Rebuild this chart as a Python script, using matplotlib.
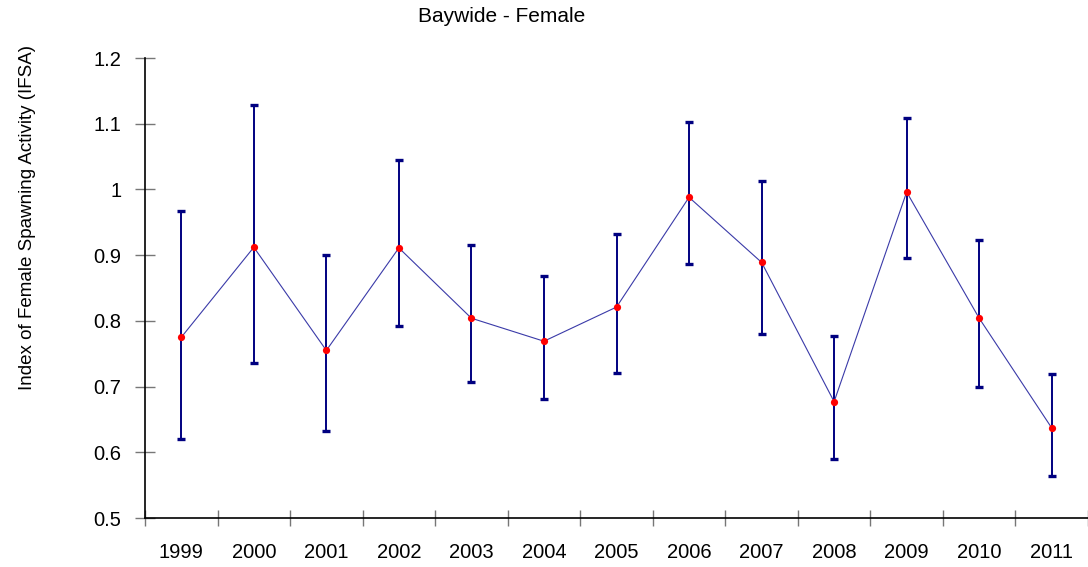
import matplotlib
matplotlib.use('Agg')
import matplotlib.pyplot as plt
import numpy as np

plt.rcParams['font.family'] = ['Liberation Sans', 'DejaVu Sans']

# Data
years = ['1999', '2000', '2001', '2002', '2003', '2004', '2005',
         '2006', '2007', '2008', '2009', '2010', '2011']
ifsa = [0.775, 0.912, 0.755, 0.911, 0.804, 0.769, 0.821,
        0.988, 0.889, 0.677, 0.996, 0.804, 0.637]
upper = [0.967, 1.129, 0.900, 1.045, 0.915, 0.868, 0.932,
         1.103, 1.013, 0.777, 1.108, 0.923, 0.719]
lower = [0.620, 0.736, 0.633, 0.792, 0.707, 0.681, 0.720,
         0.886, 0.780, 0.590, 0.896, 0.700, 0.564]

x = np.arange(len(years))
y = np.array(ifsa)
err = [y - np.array(lower), np.array(upper) - y]

fig = plt.figure(figsize=(10.88, 5.67), dpi=100)
ax = fig.add_axes([145 / 1088, 1 - 518 / 567, 1 - 145 / 1088, (518 - 58) / 567])

ax.errorbar(x, y, yerr=err, fmt='none', ecolor='#000080', elinewidth=1.4,
            capsize=2.6, capthick=2.4, zorder=2)
ax.plot(x, y, color='#3a3aa8', linewidth=0.8, zorder=3)
ax.plot(x, y, 'o', color='red', markersize=5.2, markeredgewidth=0, zorder=4)

ax.set_xlim(-0.5, len(years) - 0.5)
ax.set_ylim(0.5, 1.2)
ax.set_yticks(np.arange(0.5, 1.21, 0.1))
ax.set_yticklabels(['0.5', '0.6', '0.7', '0.8', '0.9', '1', '1.1', '1.2'])

# category boundaries carry the tick marks, labels sit at the centers
ax.set_xticks(np.arange(-0.5, len(years), 1.0))
ax.set_xticklabels([])
ax.set_xticks(x, minor=True)
ax.set_xticklabels(years, minor=True)
ax.tick_params(axis='x', which='minor', length=0, labelsize=14.5, pad=18)
ax.tick_params(axis='x', which='major', direction='inout', length=12,
               width=1, color='#777777')
ax.tick_params(axis='y', direction='inout', length=14, width=1,
               color='#777777', labelsize=14.5, pad=10)

for side in ['top', 'right']:
    ax.spines[side].set_visible(False)
ax.spines['left'].set_linewidth(1.2)
ax.spines['bottom'].set_linewidth(1.2)

fig.text(502 / 1088, 1 - 17 / 567, 'Baywide - Female', ha='center',
         va='center', fontsize=15)
fig.text(28 / 1088, 1 - 218 / 567, 'Index of Female Spawning Activity (IFSA)',
         rotation=90, ha='center', va='center', fontsize=13.5)

fig.savefig('out.png', dpi=100)
